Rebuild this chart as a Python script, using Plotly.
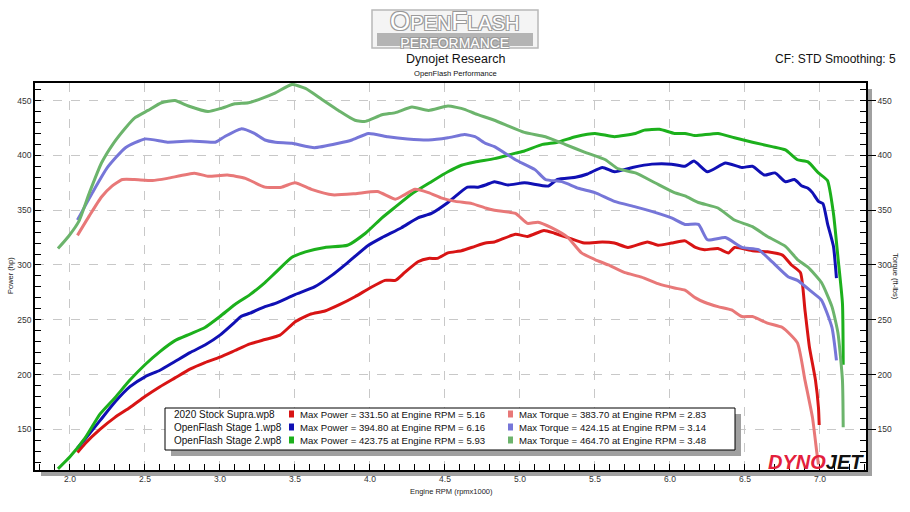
import plotly.graph_objects as go

# ---------------- data (RPM x1000) ----------------
stock_pwr_rpm = [2.05, 2.1, 2.2, 2.3, 2.4, 2.5, 2.6, 2.7, 2.8, 2.9, 3.0, 3.1, 3.2, 3.3, 3.4, 3.5, 3.6, 3.7, 3.8, 3.9,
                 4.0, 4.1, 4.17, 4.23, 4.32, 4.39, 4.45, 4.52, 4.61, 4.7, 4.77, 4.83, 4.97, 5.05, 5.16, 5.23, 5.32,
                 5.43, 5.55, 5.63, 5.72, 5.85, 5.92, 6.01, 6.1, 6.17, 6.23, 6.32, 6.39, 6.43, 6.55, 6.65, 6.75, 6.81,
                 6.87, 6.9, 6.93, 6.97, 6.99, 6.995]
stock_pwr = [129, 137, 150, 161, 170, 180, 189, 197, 205, 211, 216, 222, 228, 232, 236, 248, 255, 258, 264, 271,
             279, 286, 286, 293, 303, 306, 306, 311, 313, 317, 320, 321, 328, 326, 331.5, 329, 325,
             320, 321, 320, 316, 321, 318, 320, 322, 316, 314, 315, 311, 316, 313, 312, 309, 300,
             293, 259, 225, 195, 170, 154]

stock_trq_rpm = [2.05, 2.13, 2.21, 2.28, 2.35, 2.43, 2.55, 2.65, 2.83, 2.92, 3.05, 3.17, 3.3, 3.41, 3.5, 3.61, 3.75,
                 3.9, 4.05, 4.17, 4.23, 4.3, 4.39, 4.48, 4.57, 4.68, 4.77, 4.83, 4.97, 5.05, 5.12, 5.21, 5.32, 5.41,
                 5.5, 5.59, 5.7, 5.81, 5.92, 6.03, 6.1, 6.17, 6.23, 6.32, 6.41, 6.48, 6.55, 6.65, 6.75, 6.85, 6.9,
                 6.95, 6.98, 6.99]
stock_trq = [327, 345, 362, 372, 378, 378, 377, 379, 383.7, 381, 382, 379, 371, 371, 375, 369, 364,
             365, 367, 360, 364, 369, 366, 361, 358, 356, 352, 350, 347, 338, 339, 334, 325, 311,
             305, 300, 293, 289, 283, 279, 277, 270, 266, 262, 259, 253, 253, 247, 243, 229, 195,
             161, 128, 118]

st1_pwr_rpm = [2.05, 2.1, 2.2, 2.3, 2.4, 2.5, 2.6, 2.7, 2.8, 2.9, 3.0, 3.1, 3.14, 3.2, 3.3, 3.37, 3.5, 3.63, 3.75,
               3.85, 3.99, 4.08, 4.21, 4.32, 4.41, 4.52, 4.65, 4.72, 4.77, 4.83, 4.92, 5.03, 5.19, 5.25, 5.37, 5.45,
               5.55, 5.63, 5.75, 5.88, 6.01, 6.1, 6.16, 6.25, 6.37, 6.48, 6.55, 6.63, 6.7, 6.77, 6.83, 6.88, 6.92,
               6.95, 6.99, 7.02, 7.05, 7.09, 7.11]
st1_pwr = [133, 141, 158, 175, 189, 198, 204, 212, 220, 227, 236, 248, 253, 256, 262, 265, 273, 280, 291,
           302, 318, 325, 334, 343, 347, 357, 371, 371, 373, 376, 373, 375, 372, 378, 380, 383,
           389, 385, 389, 392, 392, 390, 394.8, 385, 393, 389, 390, 382, 384, 376, 378, 372, 370,
           366, 358, 356, 338, 317, 288]

st1_trq_rpm = [2.05, 2.15, 2.25, 2.37, 2.5, 2.65, 2.81, 2.97, 3.03, 3.14, 3.23, 3.3, 3.37, 3.48, 3.63, 3.79, 3.88,
               3.99, 4.12, 4.25, 4.39, 4.52, 4.63, 4.7, 4.77, 4.83, 4.97, 5.1, 5.17, 5.28, 5.39, 5.5, 5.63, 5.77,
               5.9, 6.01, 6.1, 6.19, 6.25, 6.37, 6.48, 6.59, 6.68, 6.79, 6.85, 6.95, 7.01, 7.08, 7.11]
st1_trq = [341, 366, 389, 407, 415, 412, 413, 412, 417, 424.15, 420, 414, 412, 411, 407, 411, 414,
           420, 417, 415, 414, 416, 419, 417, 411, 408, 396, 387, 378, 376, 370, 366, 358, 353,
           348, 343, 337, 337, 323, 325, 316, 314, 303, 289, 286, 275, 268, 243, 213]

st2_pwr_rpm = [1.92, 2.0, 2.1, 2.2, 2.3, 2.4, 2.5, 2.6, 2.7, 2.8, 2.9, 3.0, 3.1, 3.2, 3.3, 3.37, 3.48, 3.57, 3.7,
               3.85, 3.97, 4.08, 4.17, 4.28, 4.41, 4.52, 4.61, 4.7, 4.83, 4.97, 5.03, 5.15, 5.25, 5.37, 5.5, 5.63,
               5.77, 5.83, 5.93, 6.03, 6.1, 6.17, 6.32, 6.43, 6.55, 6.68, 6.77, 6.85, 6.92, 6.99, 7.05, 7.09, 7.12,
               7.15, 7.155]
st2_pwr = [114, 125, 142, 164, 179, 195, 209, 221, 231, 237, 243, 253, 264, 273, 284, 293, 307, 312, 316,
           318, 329, 343, 353, 365, 376, 385, 391, 394, 397, 402, 404, 410, 412, 417, 420, 417,
           420, 423, 423.75, 420, 420, 418, 420, 416, 412, 408, 405, 396, 394, 384, 377, 347, 307,
           265, 209]

st2_trq_rpm = [1.92, 1.99, 2.06, 2.13, 2.21, 2.29, 2.37, 2.43, 2.52, 2.61, 2.7, 2.79, 2.92, 3.01, 3.1, 3.19, 3.28,
               3.37, 3.48, 3.57, 3.68, 3.79, 3.9, 3.97, 4.08, 4.17, 4.28, 4.39, 4.52, 4.63, 4.7, 4.83, 5.03, 5.17,
               5.3, 5.43, 5.57, 5.65, 5.77, 5.9, 6.03, 6.1, 6.19, 6.32, 6.43, 6.55, 6.65, 6.77, 6.85, 6.92, 7.01,
               7.08, 7.12, 7.15, 7.155]
st2_trq = [315, 326, 340, 366, 393, 411, 425, 434, 441, 448, 450, 445, 440, 443, 447, 448, 452,
           457, 464.7, 461, 451, 441, 432, 431, 437, 439, 444, 441, 445, 442, 438, 432, 421, 417,
           410, 403, 396, 388, 384, 375, 366, 363, 357, 352, 341, 335, 326, 317, 305, 298, 284,
           262, 238, 195, 152]

run_names = ["2020 Stock Supra.wp8", "OpenFlash Stage 1.wp8", "OpenFlash Stage 2.wp8"]
max_power = ["331.50", "394.80", "423.75"]
max_power_rpm = ["5.16", "6.16", "5.93"]
max_torque = ["383.70", "424.15", "464.70"]
max_torque_rpm = ["2.83", "3.14", "3.48"]

x_ticks = [2.0, 2.5, 3.0, 3.5, 4.0, 4.5, 5.0, 5.5, 6.0, 6.5, 7.0]
y_ticks = [150, 200, 250, 300, 350, 400, 450]

# ---------------- styling ----------------
pwr_colors = ["#d81414", "#1010b4", "#1cb01c"]
trq_colors = ["#e87878", "#7676d8", "#6cb46c"]
FONT = "Liberation Sans, Arial, sans-serif"

W, H = 910, 512
L, R, T, B = 35, 866, 83, 470  # plot area in pixels


def px(xp):
    return (xp - L) / (R - L)


def py(yp):
    return (B - yp) / (B - T)


fig = go.Figure()

pwr_sets = [(stock_pwr_rpm, stock_pwr), (st1_pwr_rpm, st1_pwr), (st2_pwr_rpm, st2_pwr)]
trq_sets = [(stock_trq_rpm, stock_trq), (st1_trq_rpm, st1_trq), (st2_trq_rpm, st2_trq)]

for i, (xs, ys) in enumerate(trq_sets):
    fig.add_trace(go.Scatter(x=xs, y=ys, mode="lines", yaxis="y2", name=run_names[i] + " torque",
                             line=dict(color=trq_colors[i], width=3, shape="spline", smoothing=0.5),
                             showlegend=False, hoverinfo="skip"))
for i, (xs, ys) in enumerate(pwr_sets):
    fig.add_trace(go.Scatter(x=xs, y=ys, mode="lines", name=run_names[i] + " power",
                             line=dict(color=pwr_colors[i], width=3, shape="spline", smoothing=0.5),
                             showlegend=False, hoverinfo="skip"))

shapes = []
# plot shadow
shapes.append(dict(type="rect", xref="paper", yref="paper", x0=px(R), x1=px(R + 6), y0=py(B + 6), y1=py(T + 6),
                   fillcolor="#a0a0a0", line=dict(width=0), layer="below"))
shapes.append(dict(type="rect", xref="paper", yref="paper", x0=px(L + 6), x1=px(R + 6), y0=py(B + 6), y1=py(B),
                   fillcolor="#a0a0a0", line=dict(width=0), layer="below"))

# legend box + shadow
lx0, lx1, ly0, ly1 = 165, 735, 408, 450
shapes.append(dict(type="rect", xref="paper", yref="paper", x0=px(lx0 + 6), x1=px(lx1 + 6), y0=py(ly1 + 6),
                   y1=py(ly0 + 6), fillcolor="#a0a0a0", line=dict(width=0), layer="above"))
shapes.append(dict(type="rect", xref="paper", yref="paper", x0=px(lx0), x1=px(lx1), y0=py(ly1), y1=py(ly0),
                   fillcolor="white", line=dict(color="black", width=1), layer="above"))

annotations = []
row_y = [414, 427, 440]
for i in range(3):
    yy = row_y[i]
    annotations.append(dict(text=run_names[i], x=px(172), y=py(yy), xref="paper", yref="paper",
                            xanchor="left", yanchor="middle", showarrow=False,
                            font=dict(family=FONT, size=10, color="#111")))
    shapes.append(dict(type="rect", xref="paper", yref="paper", x0=px(289), x1=px(294), y0=py(yy + 3.5),
                       y1=py(yy - 3.5), fillcolor=pwr_colors[i], line=dict(width=0), layer="above"))
    annotations.append(dict(text=f"Max Power = {max_power[i]} at Engine RPM = {max_power_rpm[i]}",
                            x=px(298), y=py(yy), xref="paper", yref="paper", xanchor="left", yanchor="middle",
                            showarrow=False, font=dict(family=FONT, size=9.6, color="#111")))
    shapes.append(dict(type="rect", xref="paper", yref="paper", x0=px(508), x1=px(513), y0=py(yy + 3.5),
                       y1=py(yy - 3.5), fillcolor=trq_colors[i], line=dict(width=0), layer="above"))
    annotations.append(dict(text=f"Max Torque = {max_torque[i]} at Engine RPM = {max_torque_rpm[i]}",
                            x=px(517), y=py(yy), xref="paper", yref="paper", xanchor="left", yanchor="middle",
                            showarrow=False, font=dict(family=FONT, size=9.6, color="#111")))

# OpenFlash logo
shapes.append(dict(type="rect", xref="paper", yref="paper", x0=px(372), x1=px(538), y0=py(48), y1=py(10),
                   fillcolor="#f4f4f4", line=dict(color="#b8b8b8", width=1.5)))
shapes.append(dict(type="rect", xref="paper", yref="paper", x0=px(377), x1=px(533), y0=py(46), y1=py(33),
                   fillcolor="#b4b4b4", line=dict(width=0)))
annotations.append(dict(
    text=("<span style='font-size:26px'>O</span><span style='font-size:20px'>PEN</span>"
          "<span style='font-size:26px'>F</span><span style='font-size:20px'>LASH</span>"
          "<br>PERFORMANCE"),
    x=px(455), y=py(29), xref="paper", yref="paper", xanchor="center", yanchor="middle",
    showarrow=False,
    font=dict(family=FONT, size=14, color="#ffffff",
              shadow="1px 1px 0 #9a9a9a, -1px -1px 0 #9a9a9a, 1px -1px 0 #9a9a9a, -1px 1px 0 #9a9a9a")))

# titles
annotations.append(dict(text="Dynojet Research", x=px(455), y=py(59), xref="paper", yref="paper",
                        xanchor="center", yanchor="middle", showarrow=False,
                        font=dict(family=FONT, size=12.5, color="#111")))
annotations.append(dict(text="OpenFlash Performance", x=px(455), y=py(73), xref="paper", yref="paper",
                        xanchor="center", yanchor="middle", showarrow=False,
                        font=dict(family=FONT, size=7.6, color="#111")))
annotations.append(dict(text="CF: STD Smoothing: 5", x=px(898), y=py(59), xref="paper", yref="paper",
                        xanchor="right", yanchor="middle", showarrow=False,
                        font=dict(family=FONT, size=12, color="#111")))
annotations.append(dict(text="Power (hp)", x=px(10), y=py(276), xref="paper", yref="paper",
                        xanchor="center", yanchor="middle", showarrow=False, textangle=-90,
                        font=dict(family=FONT, size=7.5, color="#222")))
annotations.append(dict(text="Torque (ft-lbs)", x=px(896), y=py(276), xref="paper", yref="paper",
                        xanchor="center", yanchor="middle", showarrow=False, textangle=90,
                        font=dict(family=FONT, size=7.5, color="#222")))
annotations.append(dict(text="Engine RPM (rpmx1000)", x=px(451), y=py(491), xref="paper", yref="paper",
                        xanchor="center", yanchor="middle", showarrow=False,
                        font=dict(family=FONT, size=7.5, color="#222")))
# Dynojet logo
annotations.append(dict(text="<b><i><span style='color:#e3203c'>DYNO</span>JET</i></b>", x=px(866), y=py(462),
                        xref="paper", yref="paper", xanchor="right", yanchor="middle", showarrow=False,
                        font=dict(family=FONT, size=20, color="#111")))

tickfont = dict(family=FONT, size=8.5, color="#333")
grid = dict(showgrid=True, gridcolor="#c8c8c8", griddash="dash", gridwidth=1)

fig.update_layout(
    width=W, height=H,
    margin=dict(l=L, r=W - R, t=T, b=H - B, pad=0),
    paper_bgcolor="white", plot_bgcolor="white",
    shapes=shapes, annotations=annotations,
    xaxis=dict(range=[1.767, 7.307], tickvals=x_ticks, ticktext=[f"{v:.1f}" for v in x_ticks],
               ticks="inside", ticklen=6, tickcolor="black", showline=True, linecolor="black", linewidth=1.5,
               mirror=True, zeroline=False, tickfont=tickfont,
               minor=dict(dtick=0.1, tick0=2.0, ticks="inside", ticklen=6, tickcolor="black", showgrid=False),
               **grid),
    yaxis=dict(range=[113, 466], tickvals=y_ticks, ticks="inside", ticklen=6, tickcolor="black",
               showline=True, linecolor="black", linewidth=1.5, zeroline=False, tickfont=tickfont,
               minor=dict(dtick=10, tick0=150, ticks="inside", ticklen=6, tickcolor="black", showgrid=False),
               **grid),
    yaxis2=dict(range=[113, 466], tickvals=y_ticks, overlaying="y", side="right", ticks="outside", ticklen=8,
                tickcolor="black", showline=True, linecolor="black", linewidth=1.5, zeroline=False,
                showgrid=False, tickfont=tickfont,
                minor=dict(dtick=10, tick0=150, ticks="inside", ticklen=6, tickcolor="black", showgrid=False)),
)

fig.write_html("out.html")
